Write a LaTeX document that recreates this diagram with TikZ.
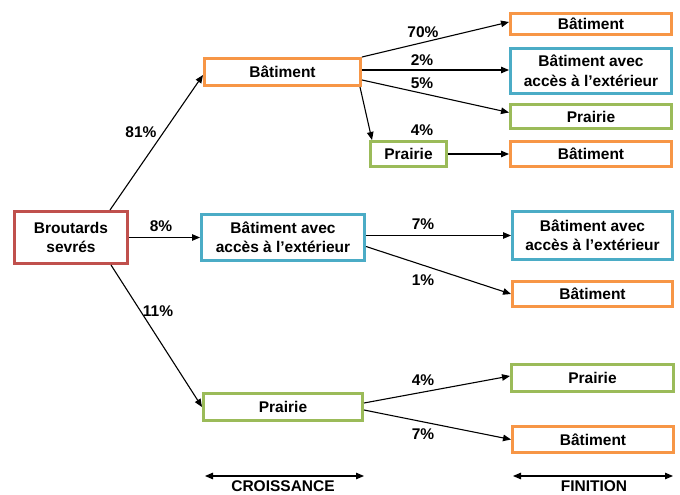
\documentclass[tikz,border=0pt]{standalone}
\usepackage{fontspec}
\setmainfont{Liberation Sans}
\usetikzlibrary{arrows.meta}
\definecolor{cred}{HTML}{C0504D}
\definecolor{corange}{HTML}{F79646}
\definecolor{cblue}{HTML}{4BACC6}
\definecolor{cgreen}{HTML}{9BBB59}
\tikzset{
  box/.style={draw=#1, line width=3pt, fill=white, inner sep=0pt, align=center,
    font=\fontsize{15.5}{19.5}\selectfont\bfseries},
  conn/.style={line width=1.1pt, -{Triangle[length=8pt,width=6.5pt]}},
  dbl/.style={line width=1.1pt, {Triangle[length=8pt,width=6.5pt]}-{Triangle[length=8pt,width=6.5pt]}},
  pct/.style={font=\fontsize{15.5}{18}\selectfont\bfseries, inner sep=0pt},
}
\begin{document}
\begin{tikzpicture}[x=1pt,y=-1pt]
\useasboundingbox (0,0) rectangle (680,495);
% nodes
\node[box=cred, minimum width=113pt, minimum height=52pt] (src) at (71,237.5) {Broutards\\sevrés};
\node[box=corange, minimum width=156pt, minimum height=27pt] (g1) at (282.5,72) {Bâtiment};
\node[box=cgreen, minimum width=76pt, minimum height=25pt] (gp) at (408.5,154) {Prairie};
\node[box=cblue, minimum width=163pt, minimum height=46pt] (g2) at (283,237.5) {Bâtiment avec\\accès à l’extérieur};
\node[box=cgreen, minimum width=159pt, minimum height=27pt] (g3) at (283,407) {Prairie};
\node[box=corange, minimum width=161pt, minimum height=21pt] (f1) at (591,24) {Bâtiment};
\node[box=cblue, minimum width=161pt, minimum height=45pt] (f2) at (591,71) {Bâtiment avec\\accès à l’extérieur};
\node[box=cgreen, minimum width=161pt, minimum height=24pt] (f3) at (591,116.5) {Prairie};
\node[box=corange, minimum width=161pt, minimum height=25pt] (f4) at (591,154) {Bâtiment};
\node[box=cblue, minimum width=160pt, minimum height=48pt] (f5) at (592.5,235.5) {Bâtiment avec\\accès à l’extérieur};
\node[box=corange, minimum width=160pt, minimum height=25pt] (f6) at (592.5,294) {Bâtiment};
\node[box=cgreen, minimum width=162pt, minimum height=27pt] (f7) at (592.5,378) {Prairie};
\node[box=corange, minimum width=161pt, minimum height=26pt] (f8) at (593,439.5) {Bâtiment};
% connectors
\draw[conn] ([xshift=-19pt]src.north east) -- ([yshift=-3pt]g1.west);
\draw[conn] (src.east) -- (g2.west);
\draw[conn] ([xshift=-18pt]src.south east) -- (g3.west);
\draw[conn] (g1.north east) -- ([yshift=2pt]f1.west);
\draw[conn] ([yshift=2pt]g1.east) -- ([yshift=1pt]f2.west);
\draw[conn] ([yshift=-8pt]g1.east) -- ([yshift=4pt]f3.west);
\draw[conn] ([xshift=-2pt]g1.south east) -- ([xshift=3pt]gp.north west);
\draw[conn] (gp.east) -- (f4.west);
\draw[conn] ([yshift=2pt]g2.east) -- (f5.west);
\draw[conn] ([yshift=-9pt]g2.east) -- (f6.west);
\draw[conn] ([yshift=4pt]g3.east) -- ([yshift=2pt]f7.west);
\draw[conn] ([yshift=-3pt]g3.east) -- (f8.west);
% labels
\node[pct] (l81) at (141,132) {81\%};
\node[pct] (l8) at (161,226) {8\%};
\node[pct] (l11) at (158,311) {11\%};
\node[pct] (l70) at (423,32) {70\%};
\node[pct] (l2) at (422,60) {2\%};
\node[pct] (l5) at (422,83) {5\%};
\node[pct] (l4a) at (422,130) {4\%};
\node[pct] (l7a) at (423,224) {7\%};
\node[pct] (l1) at (423,280) {1\%};
\node[pct] (l4b) at (423,380) {4\%};
\node[pct] (l7b) at (423,434) {7\%};
% phases
\coordinate (c1) at (205,476);
\coordinate (c2) at (364,476);
\coordinate (d1) at (513,476);
\coordinate (d2) at (673,476);
\draw[dbl] (c1) -- (c2);
\draw[dbl] (d1) -- (d2);
\node[pct, anchor=base] (tc) at (283,491) {CROISSANCE};
\node[pct, anchor=base] (tf) at (594,491) {FINITION};
\end{tikzpicture}
\end{document}
